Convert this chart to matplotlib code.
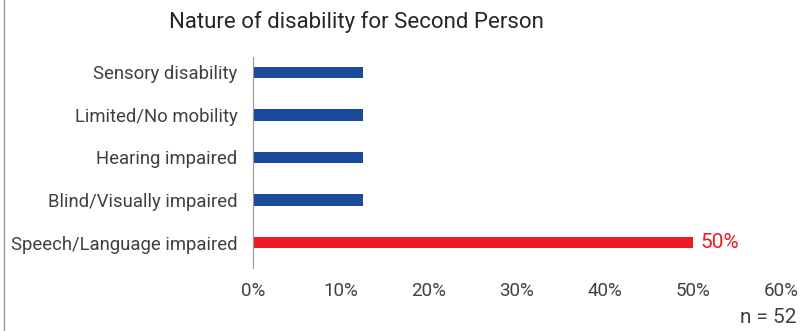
import matplotlib.pyplot as plt
from matplotlib.lines import Line2D
import numpy as np

# data (top to bottom)
categories = ["Sensory disability", "Limited/No mobility", "Hearing impaired",
              "Blind/Visually impaired", "Speech/Language impaired"]
values = [12.5, 12.5, 12.5, 12.5, 50.0]
colors = ["#1B4A9B", "#1B4A9B", "#1B4A9B", "#1B4A9B", "#ED1C24"]
xticks = [0, 10, 20, 30, 40, 50, 60]

plt.rcParams['font.family'] = ['Roboto', 'DejaVu Sans']
txt = "#404040"

fig = plt.figure(figsize=(8.09, 3.31), dpi=100)
ax = fig.add_axes([0.3127, 0.190, 0.6527, 0.638])

y = np.arange(len(categories))
ax.barh(y, values, height=0.27, color=colors)
ax.set_ylim(len(categories) - 1 + 0.6, -0.36)
ax.set_xlim(0, 60)
ax.set_yticks(y)
ax.set_yticklabels(categories, fontsize=13.3, color=txt)
ax.set_xticks(xticks)
ax.set_xticklabels([f"{t}%" for t in xticks], fontsize=13.5, color=txt)
ax.tick_params(axis='both', length=0)
ax.tick_params(axis='y', pad=11)
ax.tick_params(axis='x', pad=10)
for s in ['top', 'right', 'bottom']:
    ax.spines[s].set_visible(False)
ax.spines['left'].set_color('#999999')

ax.text(values[-1] + 0.8, y[-1], "50%", color="#ED1C24", fontsize=15,
        va='center', ha='left')

fig.text(0.44, 0.935, "Nature of disability for Second Person", fontsize=16,
         color="#262626", ha='center', va='center')
fig.text(0.985, 0.04, "n = 52", fontsize=15, color=txt, ha='right', va='center')

fig.add_artist(Line2D([0.0055, 0.0055], [0, 1], transform=fig.transFigure,
                      color='#999999', lw=1))

fig.savefig("out.png", dpi=100)
